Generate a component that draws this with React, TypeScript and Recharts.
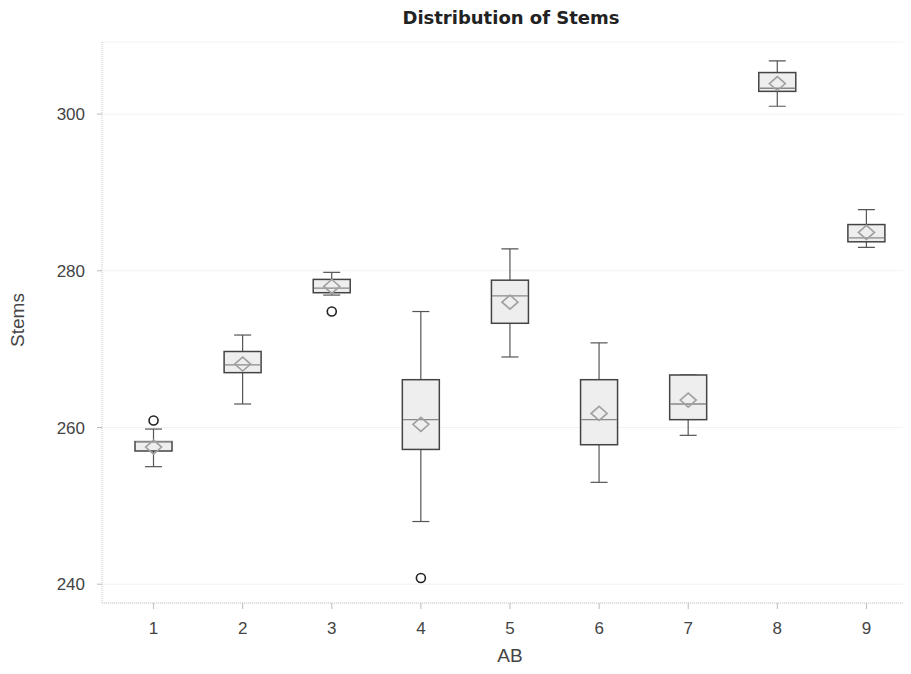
import React from 'react';
import { ComposedChart, Bar, Scatter, XAxis, YAxis, CartesianGrid } from 'recharts';

// values (Stems by AB)
const categories = ['1', '2', '3', '4', '5', '6', '7', '8', '9'];
const whiskerLow = [255, 263, 276.9, 248, 269, 253, 259, 301, 283];
const q1 = [257, 267, 277.2, 257.2, 273.3, 257.8, 261, 302.9, 283.7];
const medians = [258.2, 268, 277.8, 261, 276.8, 261, 263, 303.3, 284.2];
const q3 = [258.2, 269.7, 278.9, 266.1, 278.8, 266.1, 266.7, 305.3, 285.9];
const whiskerHigh = [259.8, 271.8, 279.8, 274.8, 282.8, 270.8, 266.7, 306.8, 287.8];
const means = [257.5, 268.1, 278, 260.4, 276, 261.8, 263.5, 303.9, 284.9];
const outliers: (number | null)[] = [260.9, null, 274.8, 240.8, null, null, null, null, null];
const yTicks = [240, 260, 280, 300];

const rows = categories.map((ab, i) => ({
    ab,
    whisker: [whiskerLow[i], whiskerHigh[i]],
    box: [q1[i], q3[i]],
    median: medians[i],
    mean: means[i],
    outlier: outliers[i],
}));

const FONT = '"Liberation Sans", Arial, sans-serif';

const WhiskerShape = (props: any) => {
    const { x, y, width, height } = props;
    const top = Math.min(y, y + height);
    const bottom = Math.max(y, y + height);
    const cx = x + width / 2;
    return (
        <g stroke="#555" strokeWidth={1.2}>
            <line x1={cx} x2={cx} y1={top} y2={bottom} />
            <line x1={x} x2={x + width} y1={top} y2={top} />
            <line x1={x} x2={x + width} y1={bottom} y2={bottom} />
        </g>
    );
};

const BoxShape = (props: any) => {
    const { x, y, width, height } = props;
    const top = Math.min(y, y + height);
    const h = Math.max(Math.abs(height), 1);
    return <rect x={x} y={top} width={width} height={h} fill="#eeeeee" stroke="#444" strokeWidth={1.5} />;
};

const MedianShape = (props: any) => {
    const { cx, cy } = props;
    if (cx == null || cy == null) return <g />;
    return <line x1={cx - 18} x2={cx + 18} y1={cy} y2={cy} stroke="#888" strokeWidth={1.3} />;
};

const MeanShape = (props: any) => {
    const { cx, cy } = props;
    if (cx == null || cy == null) return <g />;
    const w = 8;
    const h = 7;
    return (
        <polygon
            points={`${cx - w},${cy} ${cx},${cy - h} ${cx + w},${cy} ${cx},${cy + h}`}
            fill="none"
            stroke="#a0a0a0"
            strokeWidth={1.6}
        />
    );
};

const OutlierShape = (props: any) => {
    const { cx, cy, payload } = props;
    if (!payload || payload.outlier == null || cx == null || cy == null) return <g />;
    return <circle cx={cx} cy={cy} r={4.5} fill="#fff" stroke="#222" strokeWidth={1.6} />;
};

export default function App() {
    return (
        <div style={{ position: 'relative', width: 911, height: 674, margin: -8, background: '#fff', overflow: 'hidden' }}>
            <div
                style={{
                    position: 'absolute', top: 7, left: 211, width: 600, textAlign: 'center',
                    fontFamily: '"DejaVu Sans", Verdana, sans-serif', fontWeight: 700, fontSize: 18, color: '#222',
                }}
            >
                Distribution of Stems
            </div>
            <div
                style={{
                    position: 'absolute', left: -12, top: 308, width: 60, height: 24, lineHeight: '24px',
                    textAlign: 'center', transform: 'rotate(-90deg)', fontFamily: FONT, fontSize: 19, color: '#444',
                }}
            >
                Stems
            </div>
            <div
                style={{
                    position: 'absolute', left: 210, width: 600, top: 645, height: 22, lineHeight: '22px',
                    textAlign: 'center', fontFamily: FONT, fontSize: 19, color: '#444',
                }}
            >
                AB
            </div>
            <ComposedChart
                width={911}
                height={674}
                data={rows}
                margin={{ top: 42, right: 0, bottom: 0, left: 0 }}
                style={{ position: 'absolute', top: 0, left: 0 }}
            >
                <CartesianGrid vertical={false} stroke="#f2f2f2" />
                <XAxis
                    xAxisId="main"
                    dataKey="ab"
                    type="category"
                    height={71}
                    padding={{ left: 7, right: 0 }}
                    axisLine={{ stroke: '#c8c8c8', strokeDasharray: '1 1' }}
                    tickLine={{ stroke: '#bbb' }}
                    tickSize={6}
                    tickMargin={13}
                    tick={{ fill: '#444', fontSize: 17, fontFamily: FONT }}
                />
                <XAxis
                    xAxisId="top"
                    dataKey="ab"
                    type="category"
                    orientation="top"
                    height={0}
                    padding={{ left: 7, right: 0 }}
                    axisLine={{ stroke: '#c8c8c8', strokeDasharray: '1 1' }}
                    tick={false}
                    tickLine={false}
                />
                <YAxis
                    type="number"
                    domain={[237.6, 309.2]}
                    ticks={yTicks}
                    width={102}
                    allowDataOverflow
                    axisLine={{ stroke: '#c8c8c8', strokeDasharray: '1 1' }}
                    tickLine={{ stroke: '#bbb' }}
                    tickSize={5}
                    tickMargin={12}
                    tick={{ fill: '#444', fontSize: 17, fontFamily: FONT }}
                />
                <Bar xAxisId="top" dataKey="whisker" barSize={17} shape={WhiskerShape} isAnimationActive={false} />
                <Bar xAxisId="main" dataKey="box" barSize={37} shape={BoxShape} isAnimationActive={false} />
                <Scatter xAxisId="main" dataKey="median" shape={MedianShape} isAnimationActive={false} />
                <Scatter xAxisId="main" dataKey="mean" shape={MeanShape} isAnimationActive={false} />
                <Scatter xAxisId="main" dataKey="outlier" shape={OutlierShape} isAnimationActive={false} />
            </ComposedChart>
        </div>
    );
}
